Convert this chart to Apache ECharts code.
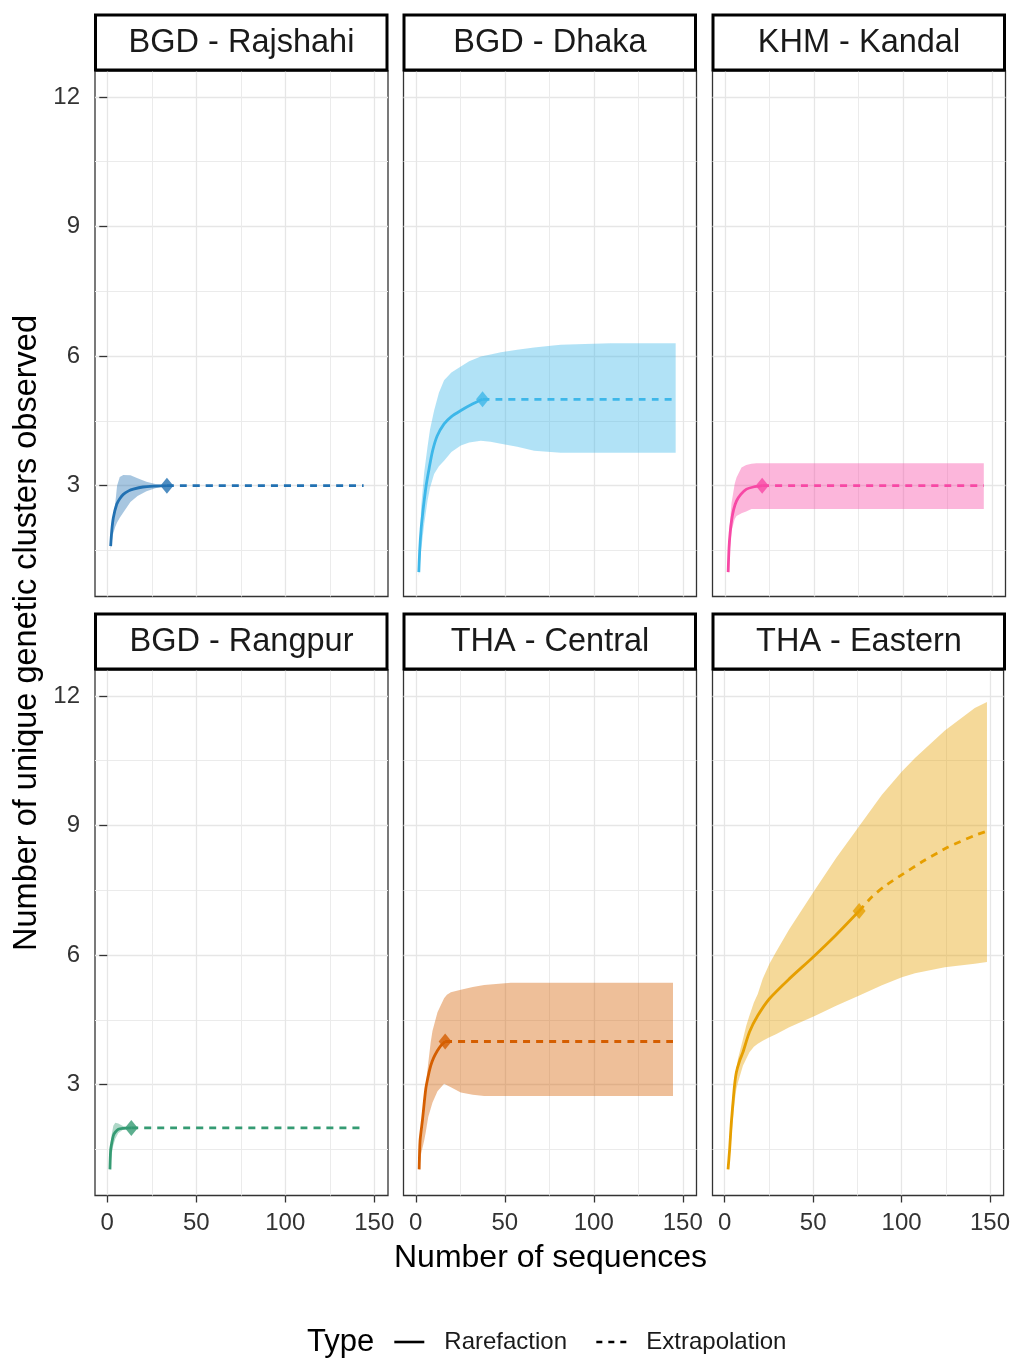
<!DOCTYPE html>
<html>
<head>
<meta charset="utf-8">
<script src="https://cdn.jsdelivr.net/npm/echarts@6/dist/echarts.min.js"></script>
<style>
  html, body { margin: 0; padding: 0; background: #ffffff; }
  #chart { width: 1013px; height: 1358px; }
</style>
</head>
<body>
<div id="chart"></div>
<script>
// ---------- facet labels and colours ----------
const panelTitles = ['BGD - Rajshahi', 'BGD - Dhaka', 'KHM - Kandal', 'BGD - Rangpur', 'THA - Central', 'THA - Eastern'];
const panelColors = ['#2271B2', '#3DB7E9', '#F748A5', '#359B73', '#D55E00', '#E69F00'];

// ---------- axis ticks ----------
const xTicks = [0, 50, 100, 150];
const xMinorTicks = [25, 75, 125];
const yTicks = [3, 6, 9, 12];
const yMinorTicks = [1.5, 4.5, 7.5, 10.5];

// ---------- BGD - Rajshahi ----------
const rajshahiRare = [[1.9, 1.6], [2.5, 1.95], [3.4, 2.26], [5.3, 2.57], [7, 2.7], [9, 2.8], [12, 2.88], [14.6, 2.92], [20, 2.97], [27, 2.99], [33.5, 3]];
const rajshahiExt = [[33.5, 3], [144, 3]];
const rajshahiObs = [33.5, 3];
// [x, lower, upper]
const rajshahiBand = [[1.9, 1.5, 1.7], [3, 1.85, 2.2], [4.5, 2.05, 2.6], [5.5, 2.15, 3.0], [7, 2.26, 3.2], [9, 2.38, 3.25], [13, 2.62, 3.24], [17, 2.76, 3.17], [22, 2.87, 3.09], [27, 2.94, 3.04], [33.5, 3, 3], [144, 3, 3]];

// ---------- BGD - Dhaka ----------
const dhakaRare = [[1.7, 1], [2.2, 1.5], [3, 2.0], [4, 2.4], [4.7, 2.65], [6, 3.05], [7.5, 3.4], [9.4, 3.8], [12, 4.15], [15.9, 4.43], [20, 4.6], [25.3, 4.74], [31.8, 4.89], [37.5, 5]];
const dhakaExt = [[37.5, 5], [146, 5]];
const dhakaObs = [37.5, 5];
const dhakaBand = [[1.7, 0.9, 1.1], [3, 1.5, 2.5], [4.7, 2.1, 3.3], [6.6, 2.65, 3.9], [8, 2.95, 4.3], [10.3, 3.27, 4.74], [13, 3.45, 5.15], [15.9, 3.58, 5.44], [20, 3.78, 5.62], [25.3, 3.93, 5.76], [30, 4.0, 5.88], [36.5, 4.04, 5.99], [42, 4.02, 6.04], [47.8, 3.97, 6.09], [57, 3.9, 6.15], [66.5, 3.81, 6.2], [75.8, 3.78, 6.24], [81.5, 3.76, 6.26], [95, 3.76, 6.28], [109.6, 3.76, 6.3], [146, 3.76, 6.3]];

// ---------- KHM - Kandal ----------
const kandalRare = [[1.9, 1], [2.4, 1.57], [3, 1.9], [3.8, 2.19], [5, 2.45], [6.6, 2.65], [9, 2.8], [12.2, 2.92], [16, 2.97], [21, 3]];
const kandalExt = [[21, 3], [145.5, 3]];
const kandalObs = [21, 3];
const kandalBand = [[1.9, 0.95, 1.05], [2.4, 1.3, 1.9], [3.8, 1.95, 2.6], [5.6, 2.23, 3.05], [6.6, 2.3, 3.19], [9.4, 2.36, 3.42], [12, 2.4, 3.48], [15, 2.46, 3.51], [17.8, 2.46, 3.52], [145.5, 2.46, 3.52]];

// ---------- BGD - Rangpur ----------
const rangpurRare = [[1.5, 1.04], [1.9, 1.5], [2.5, 1.65], [3.4, 1.82], [4.5, 1.9], [6.2, 1.97], [9, 1.99], [13.5, 2]];
const rangpurExt = [[13.5, 2], [144, 2]];
const rangpurObs = [13.5, 2];
const rangpurBand = [[1.5, 1.0, 1.08], [2.5, 1.4, 1.85], [3.4, 1.6, 2.05], [4.5, 1.75, 2.12], [6.2, 1.88, 2.1], [9, 1.96, 2.04], [13.5, 2, 2], [144, 2, 2]];

// ---------- THA - Central ----------
const centralRare = [[1.9, 1.04], [2.4, 1.7], [3.8, 2.2], [5.6, 2.9], [7, 3.2], [8.4, 3.44], [10, 3.62], [12.2, 3.79], [14, 3.9], [16.5, 4]];
const centralExt = [[16.5, 4], [144.5, 4]];
const centralObs = [16.5, 4];
const centralBand = [[1.9, 1.0, 1.08], [3, 1.4, 2.0], [4.7, 1.7, 2.59], [5.6, 1.9, 3.0], [7, 2.25, 3.5], [8.4, 2.45, 3.99], [9.4, 2.59, 4.25], [12.2, 2.85, 4.68], [15.9, 3.02, 5.0], [17.5, 2.99, 5.08], [19.7, 2.94, 5.14], [25.3, 2.82, 5.2], [32, 2.77, 5.26], [38.4, 2.74, 5.31], [53.4, 2.74, 5.36], [144.5, 2.74, 5.36]];

// ---------- THA - Eastern ----------
const easternRare = [[1.9, 1.04], [2.8, 1.51], [3.7, 2.1], [4.7, 2.59], [5.6, 3.0], [6.6, 3.29], [8.4, 3.55], [10.3, 3.75], [14, 4.22], [18.7, 4.6], [25.3, 4.99], [36.5, 5.45], [49.6, 5.94], [62.8, 6.46], [76, 7.02]];
const easternExt = [[76, 7.02], [83.3, 7.35], [90, 7.58], [98.3, 7.81], [113.3, 8.2], [126.4, 8.5], [141.4, 8.77], [148.3, 8.87]];
const easternObs = [76, 7.02];
const easternBand = [[1.9, 1.0, 1.1], [2.8, 1.3, 1.75], [3.8, 1.8, 2.44], [4.7, 2.2, 2.8], [5.6, 2.6, 3.1], [6.6, 2.9, 3.35], [7.5, 3.05, 3.6], [10.3, 3.44, 4.05], [12.2, 3.6, 4.37], [14, 3.75, 4.6], [16.5, 3.88, 4.9], [18.7, 3.95, 5.1], [21.5, 4.02, 5.45], [25.3, 4.1, 5.8], [29, 4.17, 6.07], [36.5, 4.33, 6.6], [51.5, 4.6, 7.54], [63, 4.83, 8.25], [75.8, 5.06, 8.97], [88.9, 5.3, 9.71], [100.2, 5.49, 10.25], [107.6, 5.58, 10.56], [124.5, 5.72, 11.2], [141.4, 5.8, 11.72], [148.3, 5.84, 11.86]];

// ---------- panel table ----------
const rareList = [rajshahiRare, dhakaRare, kandalRare, rangpurRare, centralRare, easternRare];
const extList = [rajshahiExt, dhakaExt, kandalExt, rangpurExt, centralExt, easternExt];
const obsList = [rajshahiObs, dhakaObs, kandalObs, rangpurObs, centralObs, easternObs];
const bandList = [rajshahiBand, dhakaBand, kandalBand, rangpurBand, centralBand, easternBand];

// ---------- layout ----------
const FONT = '"Liberation Sans", Arial, sans-serif';
const X_MIN = -6.9, X_MAX = 157.7;
const Y_MIN = 0.435, Y_MAX = 12.6;
const colLeft = [95, 403.5, 712.5];
const rowTop = [71, 670];
const panelW = 293;
const panelH = 525.5;

const grid = [], xAxis = [], yAxis = [], series = [], graphic = [];

panelTitles.forEach((title, i) => {
  const col = i % 3, row = Math.floor(i / 3);
  const left = colLeft[col], top = rowTop[row];
  const color = panelColors[i];

  grid.push({
    left: left, top: top, width: panelW, height: panelH,
    show: true, borderColor: '#333333', borderWidth: 1.3, backgroundColor: '#ffffff'
  });

  // major x axis (ticks/labels only on bottom row)
  xAxis.push({
    gridIndex: i, type: 'value', min: X_MIN, max: X_MAX, position: 'bottom',
    axisLine: { show: false },
    axisTick: { show: row === 1, customValues: xTicks, length: 7, lineStyle: { color: '#333333', width: 1.3 } },
    axisLabel: { show: row === 1, customValues: xTicks, fontSize: 24, color: '#333333', margin: 16, fontFamily: FONT },
    splitLine: { show: true, lineStyle: { color: '#e6e6e6', width: 1.3 } }
  });
  // minor x grid
  xAxis.push({
    gridIndex: i, type: 'value', min: X_MIN, max: X_MAX, position: 'top',
    axisLine: { show: false },
    axisTick: { show: false, customValues: xMinorTicks },
    axisLabel: { show: false, customValues: xMinorTicks },
    splitLine: { show: true, lineStyle: { color: '#ebebeb', width: 1 } }
  });
  // major y axis (labels only on left column)
  yAxis.push({
    gridIndex: i, type: 'value', min: Y_MIN, max: Y_MAX, position: 'left',
    axisLine: { show: false },
    axisTick: { show: col === 0, customValues: yTicks, length: 8, lineStyle: { color: '#333333', width: 1.3 } },
    axisLabel: { show: col === 0, customValues: yTicks, fontSize: 24, color: '#333333', margin: 15, fontFamily: FONT },
    splitLine: { show: true, lineStyle: { color: '#e6e6e6', width: 1.3 } }
  });
  // minor y grid
  yAxis.push({
    gridIndex: i, type: 'value', min: Y_MIN, max: Y_MAX, position: 'right',
    axisLine: { show: false },
    axisTick: { show: false, customValues: yMinorTicks },
    axisLabel: { show: false, customValues: yMinorTicks },
    splitLine: { show: true, lineStyle: { color: '#ebebeb', width: 1 } }
  });

  const band = bandList[i];
  // confidence band as one polygon: upper edge forward, lower edge back
  series.push({
    type: 'custom', xAxisIndex: 2 * i, yAxisIndex: 2 * i, silent: true, z: 1,
    data: band,
    encode: { x: 0, y: [1, 2] },
    renderItem: function (params, api) {
      if (params.dataIndex !== 0) return null;
      const pts = [];
      for (let k = 0; k < band.length; k++) pts.push(api.coord([band[k][0], band[k][2]]));
      for (let k = band.length - 1; k >= 0; k--) pts.push(api.coord([band[k][0], band[k][1]]));
      return { type: 'polygon', shape: { points: pts }, style: { fill: color, opacity: 0.4 } };
    }
  });

  series.push({
    name: 'Rarefaction', type: 'line', xAxisIndex: 2 * i, yAxisIndex: 2 * i, z: 3,
    data: rareList[i], symbol: 'none', smooth: 0.25,
    lineStyle: { color: color, width: 2.8, type: 'solid' }, itemStyle: { color: color }
  });
  series.push({
    name: 'Extrapolation', type: 'line', xAxisIndex: 2 * i, yAxisIndex: 2 * i, z: 3,
    data: extList[i], symbol: 'none', smooth: 0.25,
    lineStyle: { color: color, width: 2.8, type: [7, 6] }, itemStyle: { color: color }
  });
  series.push({
    type: 'scatter', xAxisIndex: 2 * i, yAxisIndex: 2 * i, z: 4,
    data: [obsList[i]], symbol: 'diamond', symbolSize: [13, 16],
    itemStyle: { color: color }
  });

  // facet strip
  graphic.push({
    type: 'rect', z: 10,
    shape: { x: left + 0.5, y: top - 56, width: panelW - 1.5, height: 55 },
    style: { fill: '#ffffff', stroke: '#000000', lineWidth: 3 }
  });
  graphic.push({
    type: 'text', z: 11,
    x: left + panelW / 2, y: top - 27.5,
    style: { text: title, font: '32.5px ' + FONT, fill: '#1a1a1a', textAlign: 'center', textVerticalAlign: 'middle' }
  });
});

// axis titles
graphic.push({
  type: 'text', x: 550.5, y: 1258,
  style: { text: 'Number of sequences', font: '32px ' + FONT, fill: '#000000', textAlign: 'center', textVerticalAlign: 'middle' }
});
graphic.push({
  type: 'text', x: 27, y: 633, rotation: Math.PI / 2,
  style: { text: 'Number of unique genetic clusters observed', font: '32.5px ' + FONT, fill: '#000000', textAlign: 'center', textVerticalAlign: 'middle' }
});
// legend title
graphic.push({
  type: 'text', x: 307, y: 1342,
  style: { text: 'Type', font: '31px ' + FONT, fill: '#000000', textAlign: 'left', textVerticalAlign: 'middle' }
});

const option = {
  animation: false,
  backgroundColor: '#ffffff',
  grid: grid,
  xAxis: xAxis,
  yAxis: yAxis,
  series: series,
  graphic: graphic,
  legend: {
    left: 393, top: 1330, orient: 'horizontal', padding: 0,
    itemWidth: 30, itemHeight: 14, itemGap: 28,
    selectedMode: false,
    textStyle: { fontSize: 24, color: '#1a1a1a', fontFamily: FONT, padding: [0, 0, 0, 15] },
    data: [
      { name: 'Rarefaction', itemStyle: { opacity: 0 }, lineStyle: { color: '#000000', width: 2.6, type: 'solid' } },
      { name: 'Extrapolation', itemStyle: { opacity: 0 }, lineStyle: { color: '#000000', width: 2.6, type: [6, 6] } }
    ]
  }
};

const chart = echarts.init(document.getElementById('chart'), null, { renderer: 'canvas' });
chart.setOption(option);
</script>
</body>
</html>
